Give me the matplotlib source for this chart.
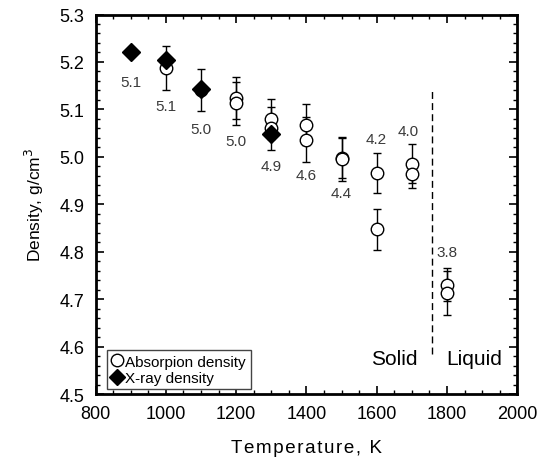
import matplotlib.pyplot as plt
from matplotlib.lines import Line2D
from matplotlib.ticker import MultipleLocator

plt.rcParams['font.family'] = ['Liberation Sans', 'DejaVu Sans']

# absorption density (open circles) with error bars
abs_T = [1000, 1100, 1200, 1200, 1300, 1300, 1400, 1400, 1500, 1500,
         1600, 1600, 1700, 1700, 1800, 1800]
abs_rho = [5.187, 5.141, 5.124, 5.113, 5.080, 5.060, 5.068, 5.036, 4.998, 4.995,
           4.966, 4.847, 4.985, 4.964, 4.730, 4.713]
abs_err = [0.046, 0.045, 0.045, 0.045, 0.042, 0.045, 0.044, 0.047, 0.043, 0.045,
           0.043, 0.044, 0.041, 0.030, 0.035, 0.047]

# x-ray density (filled diamonds)
xray_T = [900, 1000, 1100, 1300]
xray_rho = [5.222, 5.205, 5.143, 5.049]

# numbers written next to the points
label_T = [900, 1000, 1100, 1200, 1300, 1400, 1500, 1600, 1690, 1800]
label_y = [5.158, 5.108, 5.058, 5.034, 4.980, 4.962, 4.923, 5.037, 5.055, 4.800]
label_txt = ['5.1', '5.1', '5.0', '5.0', '4.9', '4.6', '4.4', '4.2', '4.0', '3.8']

melt_T = 1757

fig = plt.figure(figsize=(5.45, 4.6), dpi=100)
ax = fig.add_axes([0.1754, 0.1413, 0.7736, 0.825])

ax.errorbar(abs_T, abs_rho, yerr=abs_err, fmt='o', mfc='white', mec='black',
            ms=9, mew=1, ecolor='black', elinewidth=1, capsize=3, capthick=1, zorder=3)
ax.plot(xray_T, xray_rho, 'D', color='black', ms=9, zorder=4)

for t, y, s in zip(label_T, label_y, label_txt):
    ax.text(t, y, s, ha='center', va='center', fontsize=11, color='#3a3a3a')

ax.plot([melt_T, melt_T], [4.584, 5.143], color='black', lw=1, ls=(0, (5, 3)))
ax.text(1651, 4.575, 'Solid', ha='center', va='center', fontsize=15,
        family=['Liberation Sans Narrow', 'Liberation Sans'])
ax.text(1877, 4.575, 'Liquid', ha='center', va='center', fontsize=15,
        family=['Liberation Sans Narrow', 'Liberation Sans'])

ax.set_xlim(800, 2000)
ax.set_ylim(4.5, 5.3)
ax.xaxis.set_major_locator(MultipleLocator(200))
ax.xaxis.set_minor_locator(MultipleLocator(50))
ax.yaxis.set_major_locator(MultipleLocator(0.1))
ax.yaxis.set_minor_locator(MultipleLocator(0.02))
ax.yaxis.set_major_formatter(plt.FormatStrFormatter('%.1f'))
ax.tick_params(which='both', direction='in', top=True, right=True, labelsize=13)
ax.tick_params(which='major', length=6, width=1.2, pad=8)
ax.tick_params(which='minor', length=3, width=1)
for sp in ax.spines.values():
    sp.set_linewidth(2)

# letter-spaced x label like the original
xlab = '\u200a'.join('Temperature, K')
ax.set_xlabel(xlab, fontsize=13.5, labelpad=12)
ax.set_ylabel('Density, g/cm$^3$', fontsize=12.5, labelpad=10)

handles = [Line2D([], [], ls='none', marker='o', mfc='white', mec='black', ms=9),
           Line2D([], [], ls='none', marker='D', color='black', ms=8)]
leg = ax.legend(handles, ['Absorpion density', 'X-ray density'], loc='lower left',
                bbox_to_anchor=(0.027, 0.012), borderaxespad=0, handlelength=0.7,
                handletextpad=0.2, borderpad=0.3, labelspacing=0.15,
                fontsize=11, fancybox=False, framealpha=1, edgecolor='#444444')
leg.get_frame().set_linewidth(1)

fig.savefig('out.png', dpi=100)
